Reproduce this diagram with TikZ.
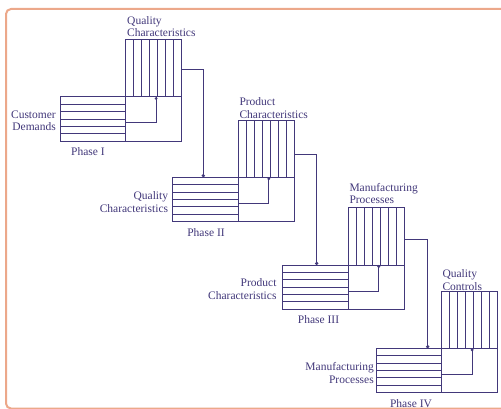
\documentclass[tikz,border=0pt]{standalone}
\usepackage{fontspec}
\setmainfont{Liberation Serif}
\usetikzlibrary{calc,arrows.meta}
\definecolor{ink}{RGB}{66,56,122}
\definecolor{framec}{RGB}{236,168,138}
\tikzset{
  ln/.style={draw=ink, line width=1pt},
  blk/.style={ln, rectangle, inner sep=0pt, outer sep=0pt, minimum height=44.3pt},
  conn/.style={ln, -{Circle[length=3.2pt]}},
  lbl/.style={text=ink, font=\fontsize{11.5}{12.5}\selectfont, inner sep=0pt},
}
\newcommand{\drawphase}[3]{%
  \node[blk, minimum width=65.6pt, anchor=north west] (#1L) at (#2,#3) {};
  \foreach \i in {1,...,5} \draw[ln] ($(#1L.north west)+(0,\i*44.3/6)$) -- ++(65.6,0);
  \node[blk, minimum width=56.3pt, anchor=north west] (#1M) at (#1L.north east) {};
  \node[blk, minimum width=56.3pt, minimum height=57pt, anchor=south west] (#1C) at (#1M.north west) {};
  \foreach \i in {1,...,6} \draw[ln] ($(#1C.south west)+(\i*56.3/7,0)$) -- ++(0,-57);
  \draw[ln] ($(#1M.north west)+(30.5,0)$) coordinate (#1d) -- ++(0,26) coordinate (#1k) -- (#1k -| #1M.west);
  \fill[ink] ($(#1d)+(0,1.5)$) circle (1.6pt);
}
\begin{document}
\begin{tikzpicture}[x=1pt,y=-1pt]
\useasboundingbox (0,0) rectangle (501,409);
\draw[framec, line width=2pt, rounded corners=5pt] (6,9) rectangle (530,408.5);

\drawphase{p1}{60}{97}
\drawphase{p2}{172.7}{177.3}
\drawphase{p3}{282.7}{265}
\drawphase{p4}{376}{348.3}

\draw[conn] ($(p1C.north east)+(0,30)$) -| ($(p2L.north west)+(30.6,0)$);
\draw[conn] ($(p2C.north east)+(0,34.7)$) -| ($(p3L.north west)+(34,0)$);
\draw[conn] ($(p3C.north east)+(0,31.6)$) -| ($(p4L.north west)+(51.7,0)$);

\node[lbl, anchor=west, align=left] (t1) at (127,26.7) {Quality\\Characteristics};
\node[lbl, anchor=east, align=right] (s1) at (56,120.5) {Customer\\Demands};
\node[lbl] (ph1) at (88,152) {Phase I};

\node[lbl, anchor=west, align=left] (t2) at (239.3,108.3) {Product\\Characteristics};
\node[lbl, anchor=east, align=right] (s2) at (168.3,202) {Quality\\Characteristics};
\node[lbl] (ph2) at (206,233) {Phase II};

\node[lbl, anchor=west, align=left] (t3) at (349.3,193.7) {Manufacturing\\Processes};
\node[lbl, anchor=east, align=right] (s3) at (276.7,289) {Product\\Characteristics};
\node[lbl] (ph3) at (318.5,319.5) {Phase III};

\node[lbl, anchor=west, align=left] (t4) at (442.3,280) {Quality\\Controls};
\node[lbl, anchor=east, align=right] (s4) at (374,373) {Manufacturing\\Processes};
\node[lbl] (ph4) at (411,404) {Phase IV};
\end{tikzpicture}
\end{document}
